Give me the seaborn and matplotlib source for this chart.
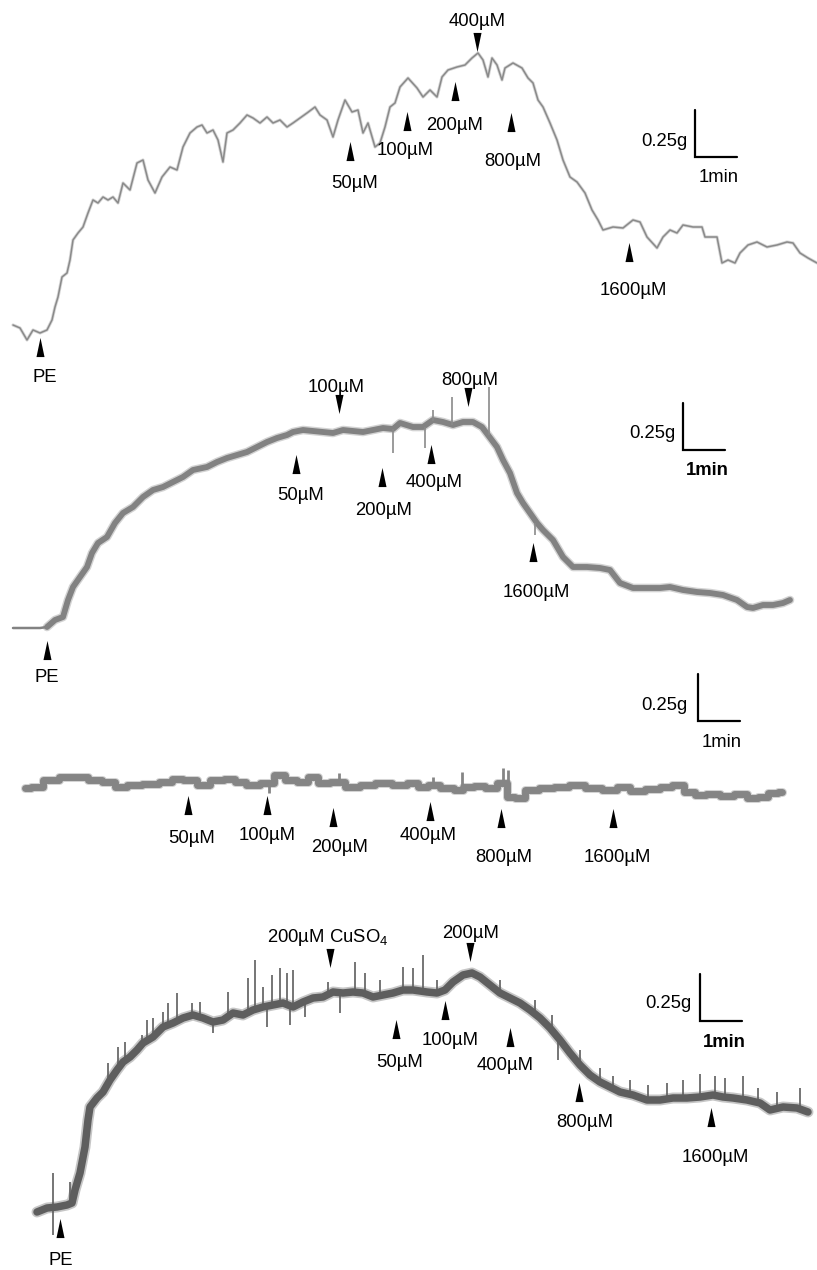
import numpy as np
import pandas as pd
import matplotlib
matplotlib.use("Agg")
import matplotlib.pyplot as plt
import seaborn as sns

# --------------------------------------------------
# digitised isometric tension traces (scan pixels)
# scale bars on every panel: 1 min = 42 px, 0.25 g = 47 px
# --------------------------------------------------
PX_PER_MIN = 42.0
PX_PER_G = 188.0
PAGE_W, PAGE_H = 817, 1270

# panel 1
trace1_x = [13, 20, 27, 33, 40, 47, 52, 55, 58, 62, 67, 70, 73, 78, 83, 88, 93, 98, 103, 108,
            113, 118, 123, 130, 137, 143, 148, 155, 162, 170, 177, 183, 190, 197, 202, 207, 213,
            218, 223, 227, 233, 240, 247, 253, 260, 267, 273, 280, 287, 293, 300, 307, 315, 320,
            327, 333, 338, 345, 352, 358, 363, 368, 375, 380, 385, 390, 395, 400, 408, 417, 423,
            430, 437, 442, 448, 457, 465, 472, 478, 483, 488, 492, 497, 502, 505, 513, 522, 528,
            533, 538, 543, 550, 557, 563, 570, 577, 585, 592, 598, 603, 613, 623, 633, 640, 647,
            657, 663, 670, 677, 683, 693, 702, 705, 717, 722, 728, 735, 740, 748, 757, 767, 777,
            787, 793, 800, 808, 817]
trace1_y = [325, 328, 340, 330, 333, 330, 320, 307, 297, 277, 273, 260, 240, 233, 227, 213, 200,
            203, 197, 200, 197, 203, 183, 190, 163, 160, 180, 193, 177, 167, 170, 147, 133, 127,
            125, 133, 130, 140, 162, 133, 130, 123, 115, 118, 123, 117, 123, 120, 127, 123, 118,
            113, 107, 115, 120, 137, 120, 100, 112, 110, 133, 123, 147, 143, 127, 107, 103, 87,
            78, 88, 97, 90, 97, 77, 70, 67, 65, 58, 53, 60, 77, 58, 65, 80, 68, 63, 68, 78, 83,
            100, 107, 123, 140, 160, 177, 182, 193, 210, 220, 230, 227, 228, 220, 222, 237, 248,
            237, 230, 233, 225, 227, 227, 237, 237, 263, 260, 263, 253, 245, 242, 247, 245, 242,
            243, 253, 258, 263]

# panel 2
trace2_x = [13, 40, 47, 55, 63, 68, 73, 80, 87, 92, 98, 107, 115, 123, 133, 143, 153, 163, 173,
            183, 193, 207, 217, 227, 237, 247, 257, 267, 277, 287, 293, 303, 313, 323, 333, 343,
            353, 363, 373, 383, 393, 400, 413, 423, 433, 443, 453, 463, 473, 482, 488, 497, 503,
            510, 517, 523, 530, 537, 543, 553, 563, 573, 587, 600, 610, 620, 633, 647, 660, 670,
            683, 697, 710, 723, 737, 747, 753, 763, 773, 783, 790]
trace2_y = [628, 628, 627, 620, 617, 600, 587, 577, 567, 553, 543, 537, 523, 513, 507, 497, 490,
            487, 482, 477, 470, 467, 462, 458, 455, 452, 447, 442, 438, 435, 432, 430, 431, 432,
            433, 430, 431, 432, 430, 428, 429, 423, 427, 427, 420, 422, 425, 422, 422, 427, 435,
            447, 460, 473, 493, 503, 513, 523, 530, 540, 557, 567, 567, 568, 570, 583, 588, 588,
            588, 587, 590, 592, 593, 595, 600, 607, 608, 605, 605, 603, 600]
spike2_x = [393, 425, 433, 452, 489, 535]
spike2_lo = [429, 427, 421, 425, 435, 523]
spike2_hi = [453, 448, 410, 397, 387, 535]

# panel 3 (no PE)
trace3_x = [25, 37, 50, 67, 83, 93, 110, 120, 133, 150, 167, 177, 190, 203, 217, 230, 240, 253,
            267, 280, 290, 303, 313, 323, 337, 353, 367, 383, 400, 413, 423, 433, 447, 460, 467,
            480, 490, 503, 510, 520, 530, 547, 560, 577, 593, 610, 623, 637, 653, 667, 677, 690,
            700, 713, 727, 740, 753, 763, 773, 782]
trace3_y = [788, 787, 780, 777, 777, 780, 782, 787, 785, 784, 782, 779, 780, 785, 780, 779, 782,
            785, 783, 775, 780, 782, 777, 783, 782, 787, 785, 783, 785, 783, 787, 785, 788, 790,
            787, 786, 788, 783, 797, 798, 790, 788, 787, 785, 788, 790, 787, 791, 789, 787, 785,
            792, 795, 794, 796, 794, 798, 797, 793, 792]
spike3_x = [269, 339, 433, 462, 503, 508]
spike3_lo = [783, 782, 785, 789, 783, 797]
spike3_hi = [793, 773, 777, 772, 768, 770]

# panel 4 (after 200 uM CuSO4)
trace4_x = [37, 47, 57, 67, 72, 75, 80, 85, 88, 90, 97, 103, 110, 117, 123, 130, 137, 143, 153,
            163, 173, 183, 193, 203, 213, 223, 233, 243, 253, 263, 273, 283, 293, 303, 313, 323,
            333, 343, 353, 363, 373, 383, 393, 403, 413, 427, 437, 445, 453, 463, 472, 480, 490,
            500, 510, 520, 530, 540, 550, 560, 570, 580, 590, 600, 610, 620, 633, 647, 660, 673,
            687, 700, 713, 723, 733, 747, 760, 770, 783, 797, 808]
trace4_y = [1212, 1208, 1207, 1205, 1203, 1190, 1173, 1147, 1120, 1107, 1098, 1092, 1080, 1070,
            1062, 1057, 1050, 1043, 1037, 1027, 1023, 1018, 1015, 1018, 1022, 1020, 1013, 1015,
            1010, 1007, 1005, 1003, 1007, 1002, 998, 997, 992, 993, 992, 993, 997, 995, 993, 990,
            990, 992, 993, 990, 982, 975, 973, 977, 985, 993, 998, 1003, 1010, 1018, 1028, 1040,
            1053, 1065, 1075, 1082, 1087, 1092, 1095, 1100, 1100, 1098, 1098, 1097, 1095, 1097,
            1098, 1100, 1103, 1110, 1107, 1108, 1112]
spike4_x = [53, 70, 108, 118, 125, 142, 147, 153, 163, 168, 177, 192, 200, 213, 228, 248, 255,
            263, 267, 272, 280, 287, 290, 293, 305, 328, 340, 355, 365, 380, 403, 413, 423, 437,
            500, 535, 552, 558, 580, 600, 613, 630, 648, 667, 683, 700, 715, 725, 743, 758, 777,
            800]
spike4_lo = [1235, 1204, 1082, 1069, 1061, 1044, 1041, 1037, 1027, 1025, 1021, 1015, 1017, 1022,
             1017, 1013, 1010, 1007, 1006, 1005, 1004, 1005, 1006, 1007, 1001, 995, 993, 992, 993,
             996, 990, 990, 991, 993, 993, 1014, 1031, 1035, 1065, 1082, 1088, 1094, 1100, 1099,
             1098, 1097, 1096, 1097, 1099, 1103, 1108, 1108]
spike4_hi = [1173, 1182, 1063, 1047, 1042, 1035, 1020, 1018, 1012, 1003, 993, 1003, 1002, 1033,
             992, 978, 960, 987, 1027, 975, 968, 973, 1025, 970, 1017, 982, 1013, 962, 973, 980,
             967, 968, 955, 980, 980, 1000, 1015, 1060, 1050, 1068, 1076, 1080, 1085, 1083, 1080,
             1074, 1076, 1078, 1076, 1088, 1092, 1088]

# drug additions: label, arrow x, arrow centre y, direction, label x, label baseline y
doses1 = ["PE", "50µM", "100µM", "200µM", "400µM", "800µM", "1600µM"]
arrow1 = [(40, 347, "up"), (350, 151, "up"), (407, 121, "up"), (455, 91, "up"),
          (477, 42, "down"), (511, 122, "up"), (629, 252, "up")]
label1 = [(45, 382), (355, 188), (405, 155), (455, 130), (477, 26), (513, 166), (633, 295)]

doses2 = ["PE", "50µM", "100µM", "200µM", "400µM", "800µM", "1600µM"]
arrow2 = [(47, 650, "up"), (296, 464, "up"), (339, 404, "down"), (382, 477, "up"),
          (431, 454, "up"), (468, 397, "down"), (533, 552, "up")]
label2 = [(47, 682), (301, 500), (336, 392), (384, 515), (434, 487), (470, 385), (536, 597)]

doses3 = ["50µM", "100µM", "200µM", "400µM", "800µM", "1600µM"]
arrow3 = [(188, 805, "up"), (267, 805, "up"), (333, 817, "up"), (430, 811, "up"),
          (501, 818, "up"), (613, 818, "up")]
label3 = [(192, 843), (267, 840), (340, 852), (428, 840), (504, 862), (617, 862)]

doses4 = ["PE", "200µM CuSO$_\\mathregular{4}$", "50µM", "100µM", "200µM", "400µM", "800µM",
          "1600µM"]
arrow4 = [(60, 1228, "up"), (330, 958, "down"), (396, 1029, "up"), (445, 1010, "up"),
          (470, 952, "down"), (510, 1037, "up"), (579, 1092, "up"), (711, 1117, "up")]
label4 = [(61, 1265), (328, 942), (400, 1067), (450, 1045), (471, 938), (505, 1070),
          (585, 1127), (715, 1162)]

# scale bars: corner (x, y), "0.25g" right edge, "1min" centre/baseline, bold 1min
scale_corner = [(695, 157), (683, 450), (698, 721), (700, 1021)]
scale_glabel = [(688, 146), (675, 438), (687, 710), (692, 1008)]
scale_tlabel = [(719, 182), (707, 475), (722, 747), (724, 1047)]
scale_bold = [False, True, False, True]


def to_min(x):
    return np.asarray(x, dtype=float) / PX_PER_MIN


def to_g(y):
    return (PAGE_H - np.asarray(y, dtype=float)) / PX_PER_G


sns.set_style("white")
plt.rcParams["font.family"] = ["Liberation Sans", "DejaVu Sans"]
plt.rcParams["mathtext.fontset"] = "custom"
plt.rcParams["mathtext.rm"] = "Liberation Sans"
plt.rcParams["text.color"] = "black"

fig = plt.figure(figsize=(8.17, 12.70), dpi=100)
ax = fig.add_axes([0, 0, 1, 1])
ax.set_xlim(0, PAGE_W / PX_PER_MIN)
ax.set_ylim(0, PAGE_H / PX_PER_G)
ax.axis("off")

FS = 13.3
UP = [(-0.42, -1), (0.42, -1), (0, 1)]
DOWN = [(-0.42, 1), (0.42, 1), (0, -1)]


def draw_trace(xs, ys, color, lw, halo=0.0, **kw):
    df = pd.DataFrame({"t": to_min(xs), "g": to_g(ys)})
    if halo:
        # soft fuzzy edge of the recorder pen
        sns.lineplot(data=df, x="t", y="g", sort=False, estimator=None, color=color,
                     linewidth=lw + halo, alpha=0.35, ax=ax, **kw)
    sns.lineplot(data=df, x="t", y="g", sort=False, estimator=None, color=color,
                 linewidth=lw, ax=ax, **kw)


# --------------------------------------------------
# traces
# --------------------------------------------------
draw_trace(trace1_x, trace1_y, "#8a8a8a", 1.1, halo=1.2)

draw_trace(trace2_x[:3], trace2_y[:3], "#828282", 1.8)
draw_trace(trace2_x[2:], trace2_y[2:], "#828282", 4.2, halo=2.0)
ax.vlines(to_min(spike2_x), to_g(spike2_lo), to_g(spike2_hi), color="#8a8a8a", lw=1.2)

draw_trace(trace3_x, trace3_y, "#858585", 5.0, halo=1.5, drawstyle="steps-mid")
ax.vlines(to_min(spike3_x), to_g(spike3_lo), to_g(spike3_hi), color="#858585", lw=2.0)

draw_trace(trace4_x, trace4_y, "#5e5e5e", 5.4, halo=2.5)
ax.vlines(to_min(spike4_x), to_g(spike4_lo), to_g(spike4_hi), color="#5e5e5e", lw=1.2)

# --------------------------------------------------
# drug addition arrowheads + labels
# --------------------------------------------------
for doses, arrows, labels in [(doses1, arrow1, label1), (doses2, arrow2, label2),
                              (doses3, arrow3, label3), (doses4, arrow4, label4)]:
    for name, (ax_x, ax_y, d), (lx, ly) in zip(doses, arrows, labels):
        ax.scatter(to_min(ax_x), to_g(ax_y), marker=UP if d == "up" else DOWN,
                   s=190, color="black", linewidths=0, zorder=5)
        ax.text(to_min(lx), to_g(ly), name, ha="center", va="baseline", fontsize=FS,
                color="black")

# --------------------------------------------------
# scale bars (0.25 g, 1 min)
# --------------------------------------------------
for (cx, cy), (gx, gy), (tx, ty), bold in zip(scale_corner, scale_glabel, scale_tlabel,
                                              scale_bold):
    x0, y0 = to_min(cx), to_g(cy)
    ax.plot([x0, x0, x0 + 1.0], [y0 + 0.25, y0, y0], color="black", lw=1.6,
            solid_joinstyle="miter")
    ax.text(to_min(gx), to_g(gy), "0.25g", ha="right", va="baseline", fontsize=FS,
            color="black")
    ax.text(to_min(tx), to_g(ty), "1min", ha="center", va="baseline", fontsize=FS,
            fontweight="bold" if bold else "normal", color="black")

plt.savefig("out.png", dpi=100)
